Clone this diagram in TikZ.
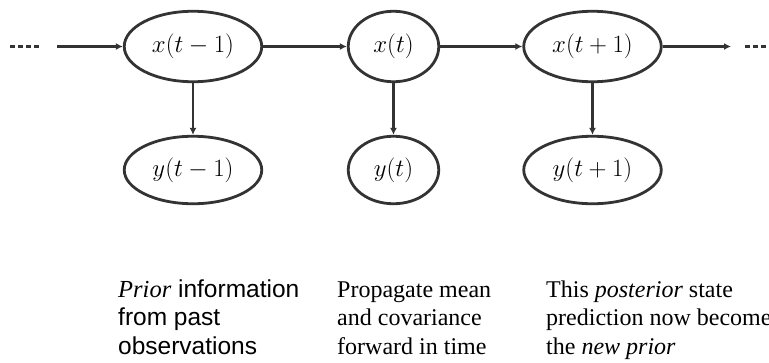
\documentclass[tikz,border=0pt]{standalone}
\usepackage{fontspec}
\setmainfont{Liberation Serif}
\newfontfamily\arialfont{Liberation Sans}
\usetikzlibrary{arrows.meta,shapes.geometric}
\definecolor{linegray}{HTML}{333333}
\tikzset{
  statenode/.style={ellipse, draw=linegray, line width=2.8pt, inner sep=0pt,
    minimum height=70.5pt, font=\fontsize{28}{32}\selectfont},
  wide/.style={minimum width=137.5pt},
  narrow/.style={minimum width=90.5pt},
  obsnode/.style={ellipse, draw=linegray, line width=2.8pt, inner sep=0pt,
    minimum height=67.5pt, font=\fontsize{28}{32}\selectfont},
  flow/.style={draw=linegray, line width=2.5pt, -{Latex[length=7pt,width=7pt]}},
  dots/.style={draw=linegray, line width=3pt, dash pattern=on 5pt off 3pt},
  sanstext/.style={anchor=base west, inner sep=0pt, font=\arialfont\fontsize{24.5}{29}\selectfont},
  seriftext/.style={anchor=base west, inner sep=0pt, font=\fontsize{24}{29}\selectfont}
}
\begin{document}
\begin{tikzpicture}[x=1pt,y=-1pt]
\useasboundingbox (0,0) rectangle (769,362);
\clip (0,0) rectangle (769,362);
% state nodes
\node[statenode,wide]   (x1) at (193,46.5)  {$x(t-1)$};
\node[statenode,narrow] (x2) at (393.5,46.5) {$x(t)$};
\node[statenode,wide]   (x3) at (592.5,46.5) {$x(t+1)$};
% observation nodes
\node[obsnode,wide]   (y1) at (193,170)   {$y(t-1)$};
\node[obsnode,narrow] (y2) at (393.5,170) {$y(t)$};
\node[obsnode,wide]   (y3) at (592.5,170) {$y(t+1)$};
% free ends
\coordinate (inL)  at (57,46.5);
\coordinate (outR) at (731,46.5);
\coordinate (dL1) at (10,46.5);
\coordinate (dL2) at (41,46.5);
\coordinate (dR1) at (745,46.5);
\coordinate (dR2) at (773,46.5);
% connectors
\draw[dots] (dL1) -- (dL2);
\draw[flow] (inL) -- (x1);
\draw[flow] (x1) -- (x2);
\draw[flow] (x2) -- (x3);
\draw[flow] (x3) -- (outR);
\draw[dots] (dR1) -- (dR2);
\draw[flow] (x1) -- (y1);
\draw[flow] (x2) -- (y2);
\draw[flow] (x3) -- (y3);
% captions
\node[sanstext] (c11) at (118,297) {{\fontspec{Liberation Serif}\itshape Prior} information};
\node[sanstext] (c12) at (118,325) {from past};
\node[sanstext] (c13) at (118,354) {observations};
\node[seriftext] (c21) at (337,297) {Propagate mean};
\node[seriftext] (c22) at (337,325) {and covariance};
\node[seriftext] (c23) at (337,354) {forward in time};
\node[seriftext] (c31) at (546,297) {This \textit{posterior} state};
\node[seriftext] (c32) at (546,325) {prediction now becomes};
\node[seriftext] (c33) at (546,354) {the \textit{new prior}};
\end{tikzpicture}
\end{document}
